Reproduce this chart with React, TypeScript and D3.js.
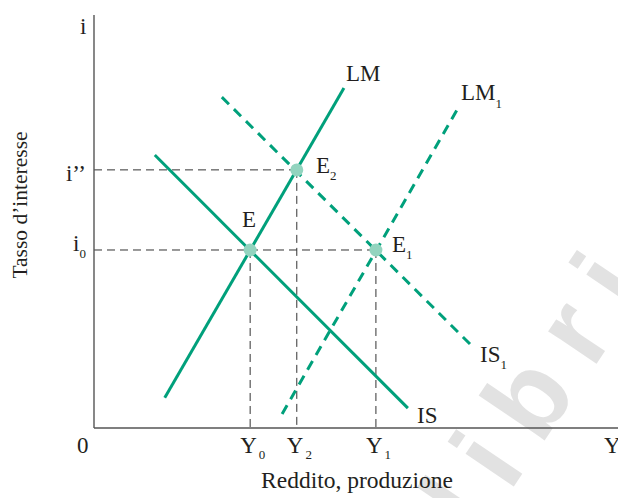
import React from "react";
import * as d3 from "d3";

// Data (economic units, arbitrary 0-100 scales)
const curveNames = ["LM", "IS", "IS1", "LM1"];
const curveDashed = [false, false, true, true];
const curveX0 = [13.5, 11.6, 24.4, 35.9];
const curveY0 = [7.3, 66.1, 80.1, 3.4];
const curveX1 = [47.7, 59.9, 72.1, 69.5];
const curveY1 = [82.3, 4.8, 19.9, 77.5];

const eqNames = ["E", "E2", "E1"];
const eqX = [29.8, 38.7, 53.8];
const eqY = [43.1, 62.5, 43.1];

const xTickLabels = ["Y", "Y", "Y"];
const xTickSubs = ["0", "2", "1"];
const xTickValues = [29.8, 38.7, 53.8];
const yTickLabels = ["i’’", "i"];
const yTickSubs = ["", "0"];
const yTickValues = [62.5, 43.1];

const watermarkLetters = ["l", "i", "b", "r", "i"];
const watermarkOffsets = [-55, 0, 74, 154, 216];

const W = 618;
const H = 498;
const x = d3.scaleLinear().domain([0, 100]).range([94, 618]);
const y = d3.scaleLinear().domain([0, 100]).range([428, 15]);

const GREEN = "#00a07b";
const DOT = "#93d4bf";
const SERIF = "'Liberation Serif', 'Times New Roman', serif";

export default function App() {
  const line = d3.line<[number, number]>().x((d) => x(d[0])).y((d) => y(d[1]));
  return (
    <svg width={W} height={H} style={{ position: "absolute", left: 0, top: 0 }} fontFamily={SERIF}>
      <rect width={W} height={H} fill="#fff" />
      {/* watermark */}
      <g transform="translate(518,480) rotate(-56)" fill="#e2e2e2" fontFamily="'Liberation Sans', Arial, sans-serif" fontWeight="bold" fontSize={110} textAnchor="middle">
        {watermarkLetters.map((c, i) => (
          <text key={i} x={watermarkOffsets[i]} y={0}>{c}</text>
        ))}
      </g>
      {/* guide dashed lines */}
      <g stroke="#333" strokeWidth={1} strokeDasharray="8,5" fill="none">
        <line x1={x(0)} x2={x(eqX[1])} y1={y(eqY[1])} y2={y(eqY[1])} />
        <line x1={x(0)} x2={x(eqX[2])} y1={y(eqY[2])} y2={y(eqY[2])} />
        {eqX.map((v, i) => (
          <line key={i} x1={x(v)} x2={x(v)} y1={y(eqY[i])} y2={y(0)} />
        ))}
      </g>
      {/* axes */}
      <g stroke="#555" strokeWidth={1.4}>
        <line x1={x(0)} x2={x(0)} y1={y(0)} y2={y(100)} />
        <line x1={x(0)} x2={x(100)} y1={y(0)} y2={y(0)} />
      </g>
      {/* curves */}
      {curveNames.map((n, i) => (
        <path
          key={n}
          d={line([[curveX0[i], curveY0[i]], [curveX1[i], curveY1[i]]]) || ""}
          stroke={GREEN}
          strokeWidth={3}
          fill="none"
          strokeDasharray={curveDashed[i] ? "10,7" : undefined}
        />
      ))}
      {/* equilibrium points */}
      {eqNames.map((n, i) => (
        <circle key={n} cx={x(eqX[i])} cy={y(eqY[i])} r={6.5} fill={DOT} />
      ))}
      <g fill="#231f20" fontSize={23}>
        {/* curve labels */}
        <text x={346} y={81}>LM</text>
        <text x={461} y={100}>LM<tspan fontSize={13} dy={8}>1</tspan></text>
        <text x={480} y={362}>IS<tspan fontSize={13} dy={7}>1</tspan></text>
        <text x={417} y={423}>IS</text>
        {/* point labels */}
        <text x={242} y={227}>E</text>
        <text x={316} y={173}>E<tspan fontSize={13} dy={7}>2</tspan></text>
        <text x={392} y={252}>E<tspan fontSize={13} dy={7}>1</tspan></text>
        {/* axis labels */}
        <text x={80} y={34}>i</text>
        <text x={77} y={453}>0</text>
        <text x={604} y={453}>Y</text>
        {yTickLabels.map((t, i) => (
          <text key={i} x={x(0) - 8} y={y(yTickValues[i]) + (yTickSubs[i] ? 1 : 11)} textAnchor="end">
            {t}
            {yTickSubs[i] ? <tspan fontSize={13} dy={7}>{yTickSubs[i]}</tspan> : null}
          </text>
        ))}
        {xTickLabels.map((t, i) => (
          <text key={i} x={x(xTickValues[i]) - 10} y={453}>
            {t}
            <tspan fontSize={13} dy={6} dx={2}>{xTickSubs[i]}</tspan>
          </text>
        ))}
        <text x={357} y={488} textAnchor="middle" fontSize={23.5}>Reddito, produzione</text>
        <text transform="translate(27,205) rotate(-90)" textAnchor="middle" fontSize={21.5}>Tasso d’interesse</text>
      </g>
    </svg>
  );
}
